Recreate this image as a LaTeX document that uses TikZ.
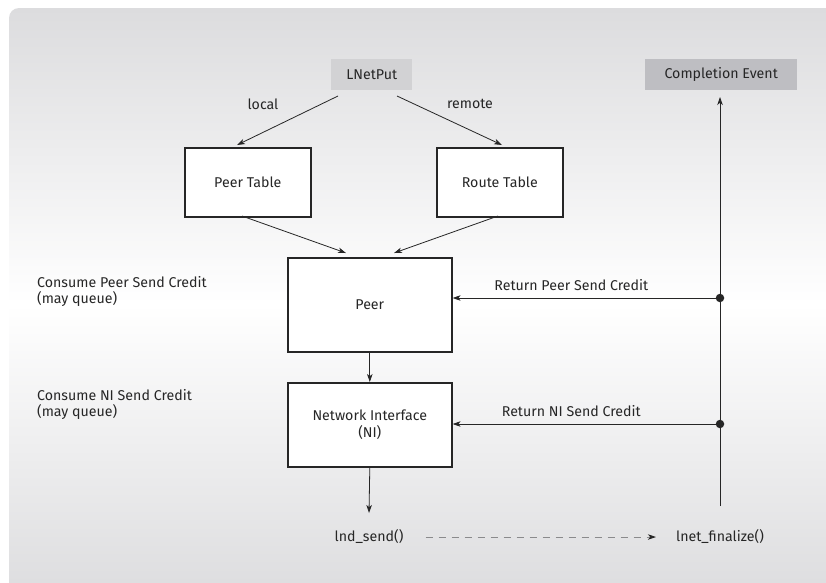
\documentclass[tikz,border=0pt]{standalone}
\usepackage{fontspec}
\setmainfont{Fira Sans}
\usetikzlibrary{arrows.meta}
\definecolor{panelgray}{HTML}{DCDCDE}
\definecolor{startfill}{HTML}{D2D2D4}
\definecolor{endfill}{HTML}{BEBEC2}
\definecolor{ink}{HTML}{262626}
\definecolor{dashgray}{HTML}{8A8A8C}
\begin{document}
\begin{tikzpicture}[x=1pt,y=-1pt,
  font=\fontsize{14.2}{16}\selectfont,
  every node/.style={text=ink},
  tag/.style={inner sep=0pt, minimum height=31pt, anchor=north west},
  block/.style={draw=ink, line width=1.6pt, fill=white, anchor=north west, align=center, inner sep=0pt},
  link/.style={draw=ink, line width=0.8pt, -{Stealth[length=8pt,width=5.5pt,inset=2.2pt]}},
  dot/.style={circle, fill=ink, inner sep=0pt, minimum size=8.5pt},
  note/.style={anchor=west, align=left, inner sep=0pt},
  call/.style={inner sep=0pt}]
\useasboundingbox (0,0) rectangle (826,582);
% background panel
\shade[rounded corners=10pt, top color=panelgray, bottom color=panelgray, middle color=white, shading angle=0]
  (9,8) rectangle (840,600);

% top tags
\node[tag, fill=startfill, minimum width=81pt] (put) at (331,59) {LNetPut};
\node[tag, fill=endfill, minimum width=152pt] (evt) at (645,59) {Completion Event};

% tables
\node[block, minimum width=126pt, minimum height=69pt] (ptab) at (184,147) {Peer Table};
\node[block, minimum width=126pt, minimum height=69pt] (rtab) at (436,147) {Route Table};

% peer and NI
\node[block, minimum width=164pt, minimum height=94pt] (peer) at (287,257) {Peer};
\node[block, minimum width=164pt, minimum height=84pt] (ni) at (287,382) {Network Interface\\[0.5pt](NI)};

% bottom calls
\node[call] (snd) at (369,537) {lnd\_send()};
\node[call] (fin) at (720,537) {lnet\_finalize()};

% branch labels
\node (lloc) at (263,104) {local};
\node (lrem) at (470,104) {remote};

% helper points
\coordinate (putL) at (338,96);
\coordinate (putR) at (397,96);
\coordinate (ptabT) at (237,145);
\coordinate (rtabT) at (502,145);
\coordinate (ptabB) at (242,216);
\coordinate (rtabB) at (498,216);
\coordinate (peerL) at (346,253);
\coordinate (peerR) at (394,253);
\coordinate (sndT) at (369,513);
\coordinate (rail) at (720,506);
\coordinate (evtB) at (720,97);

% fan-out from LNetPut
\draw[link] (putL) -- (ptabT);
\draw[link] (putR) -- (rtabT);

% tables into peer
\draw[link] (ptabB) -- (peerL);
\draw[link] (rtabB) -- (peerR);

% down the send path
\draw[link] (peer.south) -- (ni.north);
\draw[link] (ni.south) -- (sndT);
\draw[draw=dashgray, line width=0.8pt, dash pattern=on 7pt off 6pt,
      -{Stealth[length=8pt,width=5.5pt,inset=2.2pt,color=ink]}]
  ([xshift=22pt]snd.east) -- ([xshift=-20pt]fin.west);

% completion rail and credit returns
\draw[link] (rail) -- (evtB);
\node[dot] (d1) at (720,298) {};
\node[dot] (d2) at (720,424) {};
\draw[link] (d1.center) -- node[pos=0.556, above=7pt, inner sep=0pt] {Return Peer Send Credit} (peer.east |- d1);
\draw[link] (d2.center) -- node[pos=0.556, above=7pt, inner sep=0pt] {Return NI Send Credit} (ni.east |- d2);

% side notes
\node[note] (n1) at (37,291) {Consume Peer Send Credit\\(may queue)};
\node[note] (n2) at (37,404) {Consume NI Send Credit\\(may queue)};
\end{tikzpicture}
\end{document}
